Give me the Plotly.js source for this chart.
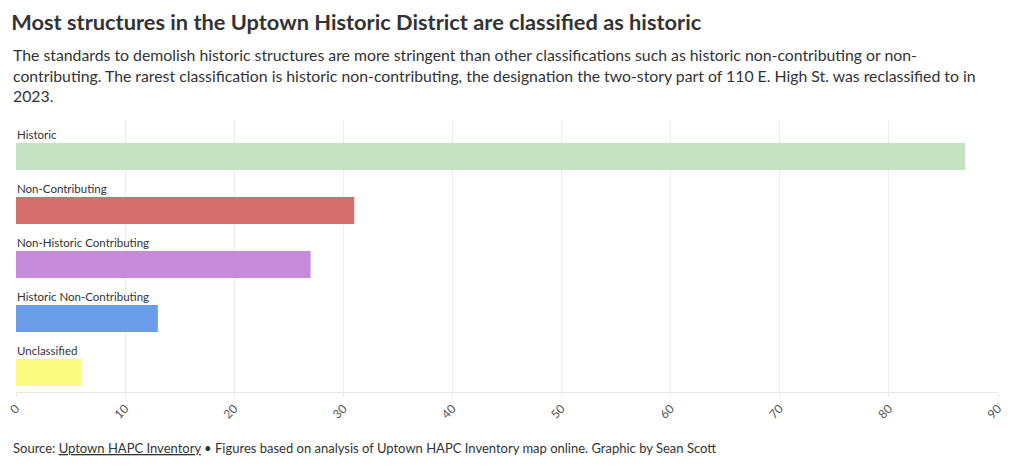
<!DOCTYPE html>
<html>
<head>
<meta charset="utf-8">
<script src="https://cdn.plot.ly/plotly-3.0.1.min.js"></script>
<style>html,body{margin:0;padding:0;background:#fff;}#chart{width:1020px;height:467px;}</style>
</head>
<body>
<div id="chart"></div>
<script>
const categories = ["Historic", "Non-Contributing", "Non-Historic Contributing", "Historic Non-Contributing", "Unclassified"];
const values = [87, 31, 27, 13, 6];
const barColors = ["#c5e2c2", "#d76e6e", "#c58ad9", "#6b9de8", "#fafa7f"];
const xTicks = [0, 10, 20, 30, 40, 50, 60, 70, 80, 90];

const FONT = "Lato, 'Source Sans Pro', 'Noto Sans', sans-serif";

const trace = {
  type: "bar",
  orientation: "h",
  x: values,
  y: categories.map((c, i) => i),
  marker: { color: barColors },
  width: 0.5,
  hoverinfo: "x"
};

const annotations = categories.map((c, i) => ({
  xref: "x", yref: "y", x: 0, y: i,
  text: c, showarrow: false,
  xanchor: "left", yanchor: "bottom", yshift: 14, xshift: -1,
  font: { family: FONT, size: 11.5, color: "#333" }
}));

annotations.push({
  xref: "paper", yref: "paper", x: -0.005, y: 1.283,
  xanchor: "left", yanchor: "top", align: "left", showarrow: false,
  text: "The standards to demolish historic structures are more stringent than other classifications such as historic non-contributing or non-<br>contributing. The rarest classification is historic non-contributing, the designation the two-story part of 110 E. High St. was reclassified to in<br>2023.",
  font: { family: FONT, size: 15.8, color: "#333" }
});

annotations.push({
  xref: "paper", yref: "paper", x: -0.005, y: -0.17,
  xanchor: "left", yanchor: "top", align: "left", showarrow: false,
  text: "Source: <u>Uptown HAPC Inventory</u> • Figures based on analysis of Uptown HAPC Inventory map online. Graphic by Sean Scott",
  font: { family: FONT, size: 13, color: "#333" }
});

const layout = {
  width: 1020, height: 467,
  margin: { l: 16, r: 22, t: 120, b: 75 },
  paper_bgcolor: "#fff", plot_bgcolor: "#fff",
  title: {
    text: "<b>Most structures in the Uptown Historic District are classified as historic</b>",
    xref: "container", yref: "container", x: 0.011, y: 0.953,
    xanchor: "left", yanchor: "middle",
    font: { family: FONT, size: 21.8, color: "#333" }
  },
  showlegend: false,
  xaxis: {
    range: [0, 90], tickvals: xTicks, ticktext: xTicks.map(String),
    tickangle: -45, showgrid: true, gridcolor: "#ececec", zeroline: false,
    showline: true, linecolor: "#e6e6e6", ticks: "outside", ticklen: 4, tickcolor: "#e6e6e6",
    tickfont: { family: FONT, size: 12, color: "#555" }, fixedrange: true
  },
  yaxis: {
    range: [4.36, -0.676], showticklabels: false, showgrid: false, zeroline: false,
    showline: false, fixedrange: true
  },
  annotations: annotations
};

Plotly.newPlot("chart", [trace], layout, { displayModeBar: false, staticPlot: true });
</script>
</body>
</html>
